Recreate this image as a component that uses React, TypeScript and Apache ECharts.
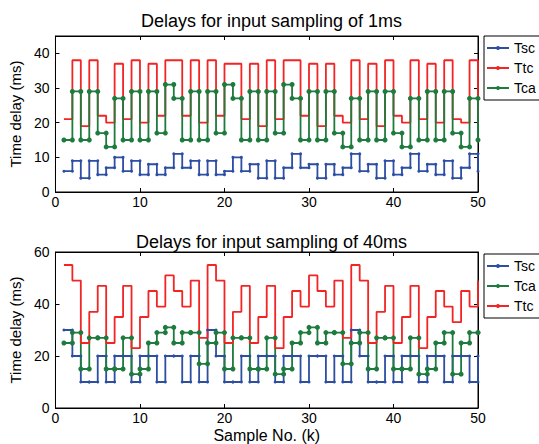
import React, { useEffect, useRef } from "react";
import * as echarts from "echarts";

const FONT = "'Liberation Sans', Arial, Helvetica, sans-serif";

const titles = ["Delays for input sampling of 1ms", "Delays for input sampling of 40ms"];
const yName = "Time delay (ms)";
const xName = "Sample No. (k)";

// 1 ms sampling (k = 1..50)
const tsc1 = [6, 9, 4, 9, 5, 7, 10, 6, 9, 5, 8, 5, 7, 11, 7, 9, 5, 9, 5, 6, 10, 6, 8, 4, 9, 4, 7, 11, 7, 8, 4, 8, 5, 7, 11, 6, 8, 4, 9, 5, 7, 11, 6, 8, 5, 9, 4, 7, 11, 6];
const ttc1 = [21, 38, 19, 38, 22, 20, 37, 21, 38, 20, 37, 22, 38, 38, 22, 38, 20, 38, 22, 37, 37, 21, 37, 19, 38, 21, 38, 38, 22, 37, 19, 37, 22, 20, 38, 21, 37, 19, 38, 22, 20, 38, 21, 37, 20, 38, 21, 20, 38, 21];
const tca1 = [15, 29, 15, 29, 17, 13, 27, 15, 29, 15, 29, 17, 31, 27, 15, 29, 15, 29, 17, 31, 27, 15, 29, 15, 29, 17, 31, 27, 15, 29, 15, 29, 17, 13, 27, 15, 29, 15, 29, 17, 13, 27, 15, 29, 15, 29, 17, 13, 27, 15];

// 40 ms sampling (k = 1..50)
const tsc2 = [30, 20, 10, 10, 20, 10, 20, 20, 10, 20, 20, 10, 20, 20, 10, 20, 10, 30, 20, 10, 10, 20, 10, 20, 20, 10, 20, 20, 10, 20, 20, 10, 20, 10, 30, 20, 10, 10, 20, 10, 20, 20, 10, 20, 20, 10, 20, 20, 10, 20];
const tca2 = [25, 29, 15, 27, 27, 15, 15, 27, 13, 15, 25, 29, 31, 25, 29, 29, 17, 25, 29, 15, 27, 27, 15, 15, 27, 13, 15, 25, 29, 31, 25, 29, 29, 17, 25, 29, 15, 27, 27, 15, 15, 27, 13, 15, 25, 29, 13, 25, 29, 29];
const ttc2 = [55, 49, 25, 37, 47, 25, 35, 47, 23, 35, 45, 39, 51, 45, 39, 49, 27, 55, 49, 25, 37, 47, 25, 35, 47, 23, 35, 45, 39, 51, 45, 39, 49, 27, 55, 49, 25, 37, 47, 25, 35, 47, 23, 35, 45, 39, 33, 45, 39, 49];

const xTicks = { min: 0, max: 50, interval: 10 };
const yTicks1 = { min: 0, max: 45, interval: 10 };
const yTicks2 = { min: 0, max: 60, interval: 20 };

const BLUE = "#2c4ea3";
const RED = "#f22424";
const GREEN = "#1d7b3d";

// MATLAB-style stairs vertices: (k, y_k) -> (k+1, y_k) -> (k+1, y_{k+1}) ...
function stairs(ys: number[]): number[][] {
  const pts: number[][] = [];
  ys.forEach((y, i) => {
    const x = i + 1;
    pts.push([x, y]);
    if (i < ys.length - 1) pts.push([x + 1, y]);
  });
  return pts;
}

export default function App() {
  const ref = useRef<HTMLDivElement>(null);
  useEffect(() => {
    if (!ref.current) return;
    const chart = echarts.init(ref.current, undefined, { renderer: "svg" });
    const black = { color: "#000", width: 1 };
    const label = { color: "#000", fontSize: 14, fontFamily: FONT };
    const nameStyle = { color: "#000", fontSize: 15, fontFamily: FONT };
    const titleStyle = { fontSize: 18, fontWeight: "normal", color: "#000", fontFamily: FONT };
    const mainX = (grid: number, withName: boolean) => ({
      type: "value",
      gridIndex: grid,
      ...xTicks,
      axisLine: { show: true, onZero: false, lineStyle: black },
      axisTick: { show: true, inside: true, length: 4, lineStyle: black },
      axisLabel: { ...label, margin: 3 },
      splitLine: { show: false },
      name: withName ? xName : "",
      nameLocation: "middle",
      nameGap: 19,
      nameTextStyle: { ...nameStyle, fontSize: 16 },
    });
    const topX = (grid: number) => ({
      type: "value",
      gridIndex: grid,
      position: "top",
      ...xTicks,
      axisLine: { show: true, onZero: false, lineStyle: black },
      axisTick: { show: true, inside: true, length: 4, lineStyle: black },
      axisLabel: { show: false },
      splitLine: { show: false },
    });
    const mainY = (grid: number, t: any) => ({
      type: "value",
      gridIndex: grid,
      ...t,
      axisLine: { show: true, onZero: false, lineStyle: black },
      axisTick: { show: true, inside: true, length: 4, lineStyle: black },
      axisLabel: {
        ...label,
        margin: 6,
        formatter: (v: number) => (v % t.interval === 0 ? String(v) : ""),
      },
      splitLine: { show: false },
      name: yName,
      nameLocation: "middle",
      nameGap: 24,
      nameRotate: 90,
      nameTextStyle: nameStyle,
    });
    const rightY = (grid: number, t: any) => ({
      type: "value",
      gridIndex: grid,
      position: "right",
      ...t,
      axisLine: { show: true, onZero: false, lineStyle: black },
      axisTick: { show: true, inside: true, length: 4, lineStyle: black },
      axisLabel: { show: false },
      splitLine: { show: false },
    });
    const line = (name: string, data: number[], color: string, xi: number, yi: number, size: number) => ({
      type: "line",
      name,
      xAxisIndex: xi,
      yAxisIndex: yi,
      data: stairs(data),
      color,
      symbol: size > 0 ? "circle" : "none",
      symbolSize: size,
      showSymbol: size > 0,
      showAllSymbol: true,
      lineStyle: { color, width: 1.8 },
      itemStyle: { color },
      emphasis: { disabled: true },
      z: 2,
    });
    const legendBase = {
      orient: "vertical",
      left: 484,
      itemWidth: 22,
      itemHeight: 5,
      itemGap: 4,
      padding: [4, 30, 4, 2],
      borderColor: "#000",
      borderWidth: 1,
      backgroundColor: "#fff",
      textStyle: { color: "#000", fontSize: 14, fontFamily: FONT, lineHeight: 16 },
      selectedMode: false,
    };
    chart.setOption({
      animation: false,
      textStyle: { fontFamily: FONT },
      title: [
        { text: titles[0], left: 266.5, top: 7, textAlign: "center", textStyle: titleStyle },
        { text: titles[1], left: 266.5, top: 228, textAlign: "center", textStyle: titleStyle },
      ],
      legend: [
        { ...legendBase, top: 36, data: ["Tsc", "Ttc", "Tca"] },
        { ...legendBase, top: 254, data: ["Tsc", "Tca", "Ttc"] },
      ],
      grid: [
        { left: 55, top: 36, width: 423, height: 156, show: true, borderColor: "#000", borderWidth: 1, backgroundColor: "#fff" },
        { left: 55, top: 252, width: 423, height: 157, show: true, borderColor: "#000", borderWidth: 1, backgroundColor: "#fff" },
      ],
      xAxis: [mainX(0, false), topX(0), mainX(1, true), topX(1)],
      yAxis: [mainY(0, yTicks1), rightY(0, yTicks1), mainY(1, yTicks2), rightY(1, yTicks2)],
      series: [
        line("Tsc", tsc1, BLUE, 0, 0, 3),
        line("Ttc", ttc1, RED, 0, 0, 0),
        line("Tca", tca1, GREEN, 0, 0, 5),
        line("Tsc", tsc2, BLUE, 2, 2, 3),
        line("Tca", tca2, GREEN, 2, 2, 5),
        line("Ttc", ttc2, RED, 2, 2, 0),
      ],
    });
    return () => chart.dispose();
  }, []);
  return <div ref={ref} style={{ position: "absolute", left: 0, top: 0, width: 539, height: 444 }} />;
}
